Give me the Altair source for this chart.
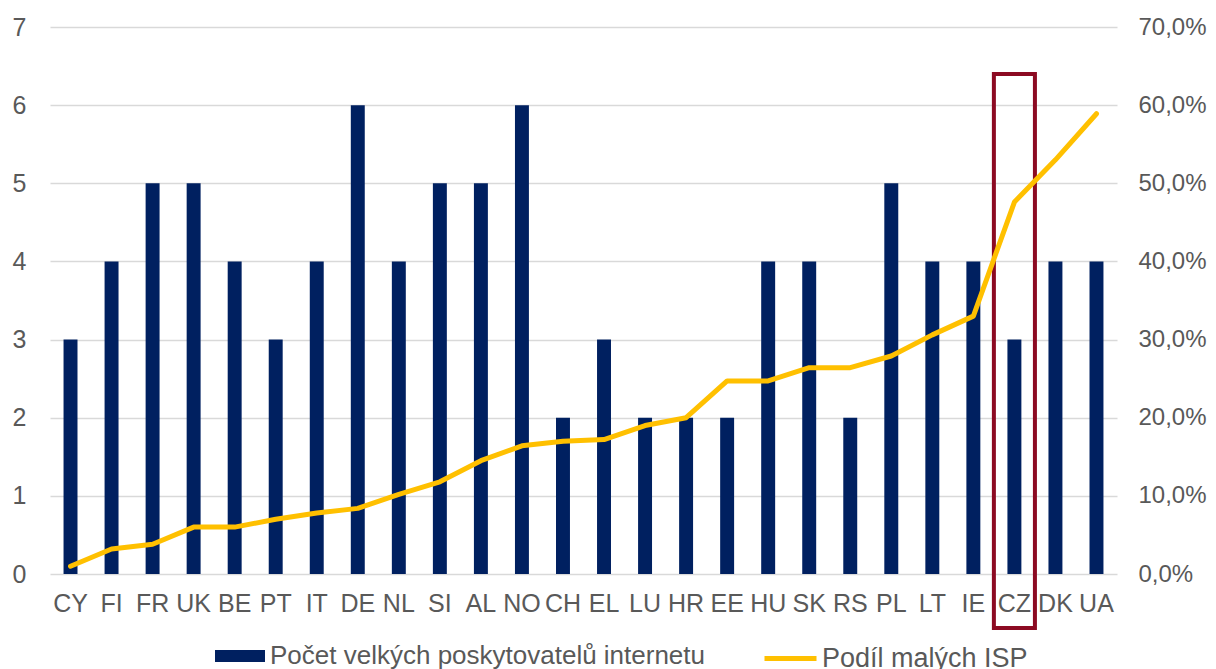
import altair as alt
import pandas as pd

countries = ["CY", "FI", "FR", "UK", "BE", "PT", "IT", "DE", "NL", "SI", "AL", "NO", "CH",
             "EL", "LU", "HR", "EE", "HU", "SK", "RS", "PL", "LT", "IE", "CZ", "DK", "UA"]
large_isp = [3, 4, 5, 5, 4, 3, 4, 6, 4, 5, 5, 6, 2, 3, 2, 2, 2, 4, 4, 2, 5, 4, 4, 3, 4, 4]
small_share = [0.010, 0.032, 0.038, 0.060, 0.060, 0.070, 0.078, 0.084, 0.102, 0.118, 0.145,
               0.164, 0.170, 0.172, 0.190, 0.200, 0.247, 0.247, 0.264, 0.264, 0.279, 0.306,
               0.330, 0.476, 0.530, 0.589]
bar_name = "Počet velkých poskytovatelů internetu"
line_name = "Podíl malých ISP"
highlight = ["CZ"]
highlight_top = [6.4]
highlight_bottom = [-0.69]

df = pd.DataFrame({"country": countries, "large": large_isp, "share": small_share,
                   "s1": bar_name, "s2": line_name})
box_df = pd.DataFrame({"country": highlight, "top": highlight_top, "bottom": highlight_bottom})

FONT = "Liberation Sans"
GRAY = "#595959"

x = alt.X("country:N", sort=countries, title=None,
          scale=alt.Scale(paddingInner=0, paddingOuter=0),
          axis=alt.Axis(labelAngle=0, ticks=False, domain=False, labelPadding=17,
                        labelFontSize=25, labelColor=GRAY, labelFont=FONT))

left_axis = alt.Axis(values=[0, 1, 2, 3, 4, 5, 6, 7], format="d", ticks=False, domain=False,
                     labelPadding=24, labelFontSize=25, labelColor=GRAY, labelFont=FONT,
                     gridColor="#d9d9d9", gridWidth=1.5)
left_scale = alt.Scale(domain=[0, 7])

bars = alt.Chart(df).mark_bar(width=alt.RelativeBandSize(0.34)).encode(
    x=x,
    y=alt.Y("large:Q", title=None, scale=left_scale, axis=left_axis),
    fill=alt.Fill("s1:N", title=None,
                  scale=alt.Scale(domain=[bar_name], range=["#002060"]),
                  legend=alt.Legend(orient="none", legendX=165, legendY=604,
                                    symbolType="M-1,-0.24L1,-0.24L1,0.24L-1,0.24Z",
                                    symbolSize=2500, symbolStrokeWidth=0, labelOffset=5,
                                    labelFontSize=26, labelColor=GRAY, labelFont=FONT,
                                    labelLimit=800)),
)

box = alt.Chart(box_df).mark_rect(fillOpacity=0, stroke="#8C0A22", strokeWidth=4).encode(
    x=alt.X("country:N", sort=countries, title=None),
    y=alt.Y("top:Q", title=None, scale=left_scale, axis=left_axis),
    y2="bottom:Q",
)

line = alt.Chart(df).mark_line(strokeWidth=5, strokeCap="round", strokeJoin="round").encode(
    x=alt.X("country:N", sort=countries, title=None),
    y=alt.Y("share:Q", title=None, scale=alt.Scale(domain=[0, 0.7]),
            axis=alt.Axis(orient="right", values=[0, 0.1, 0.2, 0.3, 0.4, 0.5, 0.6, 0.7],
                          labelExpr="replace(format(datum.value, '.1%'), '.', ',')",
                          ticks=False, domain=False, grid=False, labelPadding=21,
                          labelFontSize=24, labelColor=GRAY, labelFont=FONT)),
    stroke=alt.Stroke("s2:N", title=None,
                      scale=alt.Scale(domain=[line_name], range=["#FFC000"]),
                      legend=alt.Legend(orient="none", legendX=712, legendY=603,
                                        symbolType="stroke", symbolSize=2704,
                                        symbolStrokeWidth=5, labelOffset=3,
                                        labelFontSize=27, labelColor=GRAY, labelFont=FONT,
                                        labelLimit=800)),
)

chart = alt.layer(alt.layer(bars, box), line).resolve_scale(
    y="independent", fill="independent", stroke="independent"
).properties(
    width=1067, height=547,
    autosize=alt.AutoSizeParams(type="none"),
    padding={"left": 42, "top": 19, "right": 90, "bottom": 95},
).configure_view(stroke=None)

chart.save("out.html", embed_options={"renderer": "svg", "actions": False})
